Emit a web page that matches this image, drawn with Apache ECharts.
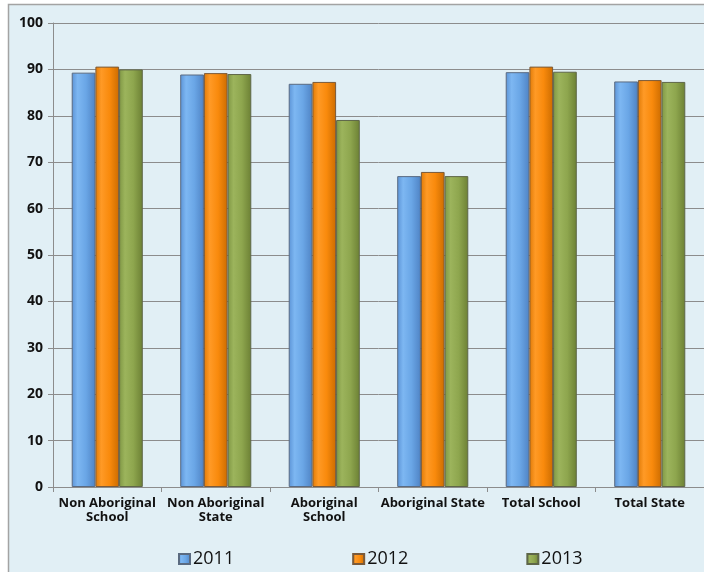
<!DOCTYPE html>
<html>
<head>
<meta charset="utf-8">
<title>Attendance rates 2011–2013</title>
<script src="https://cdn.jsdelivr.net/npm/echarts@6/dist/echarts.min.js"></script>
<style>
  html, body { margin: 0; padding: 0; background: #ffffff; }
  #chart { width: 704px; height: 572px; }
</style>
</head>
<body>
<div id="chart"></div>
<script>
// Categories and yearly values (percent)
const categories = [
  'Non Aboriginal\nSchool',
  'Non Aboriginal\nState',
  'Aboriginal\nSchool',
  'Aboriginal State',
  'Total School',
  'Total State'
];
const years = ['2011', '2012', '2013'];
const values2011 = [89.3, 88.9, 86.9, 67.0, 89.4, 87.4];
const values2012 = [90.6, 89.2, 87.3, 67.9, 90.6, 87.7];
const values2013 = [90.0, 89.0, 79.1, 67.0, 89.5, 87.3];
const yTicks = [0, 10, 20, 30, 40, 50, 60, 70, 80, 90, 100];

// Cylinder-like horizontal shading for each series
function shade(dark, light, mid, edge) {
  return new echarts.graphic.LinearGradient(0, 0, 1, 0, [
    { offset: 0, color: dark },
    { offset: 0.25, color: light },
    { offset: 0.6, color: mid },
    { offset: 1, color: edge }
  ]);
}
const palette = [
  { fill: shade('#5b93d6', '#7db7f2', '#6aa6e6', '#4f83c4'), border: '#5a6a80' },
  { fill: shade('#e07a06', '#ff9a26', '#f98a0c', '#cc6c00'), border: '#7a5a3a' },
  { fill: shade('#7f9744', '#9cb45c', '#8ea64e', '#6c8034'), border: '#5e6648' }
];
const seriesValues = [values2011, values2012, values2013];

const chart = echarts.init(document.getElementById('chart'), null, { renderer: 'canvas' });

chart.setOption({
  backgroundColor: '#ffffff',
  animation: false,
  graphic: {
    elements: [{
      type: 'rect',
      z: -10,
      silent: true,
      shape: { x: 8.5, y: 4.5, width: 2000, height: 2000 },
      style: { fill: '#e1eff5', stroke: '#a3a3a3', lineWidth: 1.5 }
    }]
  },
  grid: { left: 53, top: 23, right: -9, bottom: 85, containLabel: false },
  legend: {
    data: years,
    left: 178,
    top: 550,
    padding: 0,
    itemWidth: 11,
    itemHeight: 10,
    itemGap: 118,
    icon: 'rect',
    textStyle: { fontFamily: 'Open Sans', fontSize: 18, color: '#111111', padding: [0, 0, 0, -2] }
  },
  xAxis: {
    type: 'category',
    data: categories,
    axisLine: { show: true, lineStyle: { color: '#8c8c8c', width: 1 } },
    axisTick: { show: true, length: 5, lineStyle: { color: '#8c8c8c' } },
    axisLabel: {
      interval: 0,
      margin: 9,
      fontFamily: 'Open Sans',
      fontWeight: 'bold',
      fontSize: 13,
      lineHeight: 14,
      color: '#111111'
    }
  },
  yAxis: {
    type: 'value',
    min: yTicks[0],
    max: yTicks[yTicks.length - 1],
    interval: 10,
    axisLine: { show: true, lineStyle: { color: '#8c8c8c', width: 1 } },
    axisTick: { show: true, length: 5, lineStyle: { color: '#8c8c8c' } },
    splitLine: { show: true, lineStyle: { color: '#8c8c8c', width: 1 } },
    axisLabel: {
      margin: 10,
      fontFamily: 'Open Sans',
      fontWeight: 'bold',
      fontSize: 14,
      color: '#111111'
    }
  },
  series: years.map((year, i) => ({
    name: year,
    type: 'bar',
    data: seriesValues[i],
    barGap: '0%',
    barCategoryGap: '34.5%',
    itemStyle: {
      color: palette[i].fill,
      borderColor: palette[i].border,
      borderWidth: 1
    }
  }))
});
</script>
</body>
</html>
